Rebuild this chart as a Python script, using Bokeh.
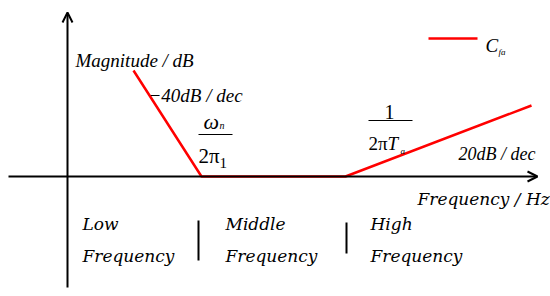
from bokeh.plotting import figure
from bokeh.models import Range1d, Arrow, OpenHead
from bokeh.core.properties import value
from bokeh.embed import file_html
from bokeh.resources import INLINE

# Asymptotic magnitude curve (diagram units: x ~ log-frequency, y ~ dB)
freq_pts = [66, 134, 278, 464]
mag_pts = [106, 0, 0, 71]

# Region labels
region_top = ["Low", "Middle", "High"]
region_bottom = ["Frequency", "Frequency", "Frequency"]
region_x = [15, 158, 303]

SERIF = "'Liberation Serif'"
BOOK = "'DejaVu Serif'"
RED = "#ff0000"

p = figure(width=550, height=296, output_backend="svg", toolbar_location=None,
           x_range=Range1d(-67, 483), y_range=Range1d(-120, 176),
           min_border=0, outline_line_color=None)
p.axis.visible = False
p.grid.visible = False
p.background_fill_color = "white"
p.border_fill_color = "white"

# axes with arrows
p.add_layout(Arrow(x_start=0, y_start=-111, x_end=0, y_end=164,
                   line_color="black", line_width=2,
                   end=OpenHead(size=10, line_width=2, line_color="black")))
p.add_layout(Arrow(x_start=-59, y_start=0, x_end=470, y_end=0,
                   line_color="black", line_width=2,
                   end=OpenHead(size=10, line_width=2, line_color="black")))

# red curve
p.line(freq_pts, mag_pts, line_color=RED, line_width=2.5)

# legend
p.line([361, 410], [138, 138], line_color=RED, line_width=2.5)

def txt(x, y, s, size, font=SERIF, style="italic", align="left"):
    p.text(x=[x], y=[y], text=[s], text_font=value(font), text_font_size=f"{size}px",
           text_font_style=style, text_baseline="alphabetic", text_align=align,
           text_color="black")

txt(418, 131, "C", 19)
txt(431, 125, "fa", 9)

txt(8, 116, "Magnitude / dB", 19)
txt(81, 81, "\u221240dB / dec", 19)
txt(391, 23, "20dB / dec", 18)

# omega_n / 2 pi_1
txt(136, 55, "\u03c9", 22)
txt(152, 51, "n", 10)
p.line([131, 165], [42, 42], line_color="black", line_width=1)
txt(131, 21, "2\u03c0", 21, style="normal")
txt(152, 14, "1", 15, style="normal")

# 1 / 2 pi T_a
txt(322, 65, "1", 20, style="normal", align="center")
p.line([301, 345], [56, 56], line_color="black", line_width=1)
txt(301, 33, "2\u03c0", 19, style="normal")
txt(320, 33, "T", 19)
txt(333, 26, "a", 9)

# frequency axis label
txt(350, -22, "Frequency / Hz", 17, font=BOOK)

# region labels
for x, a, b in zip(region_x, region_top, region_bottom):
    txt(x, -47, a, 17, font=BOOK)
    txt(x, -79, b, 17, font=BOOK)

p.line([131, 131], [-44, -84], line_color="black", line_width=2)
p.line([279, 279], [-46, -77], line_color="black", line_width=2)

open("out.html", "w").write(file_html(p, INLINE))
